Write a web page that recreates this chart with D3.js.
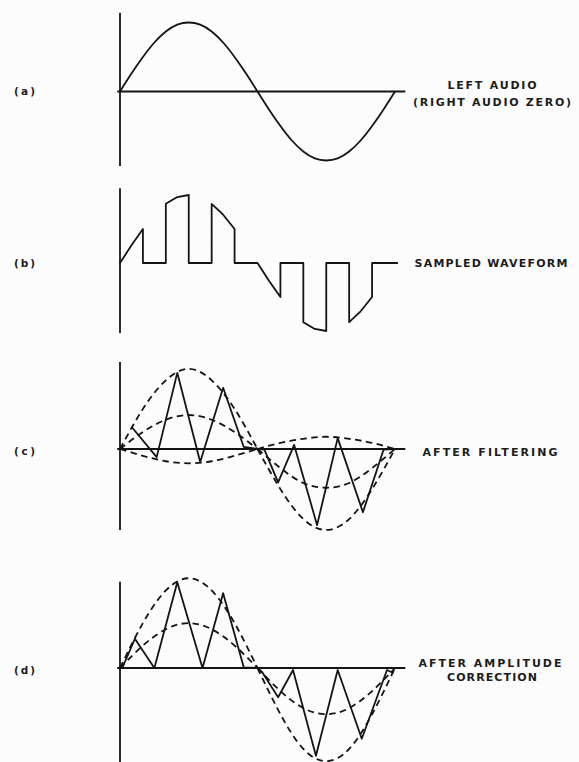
<!DOCTYPE html>
<html>
<head>
<meta charset="utf-8">
<script src="https://cdn.jsdelivr.net/npm/d3@7"></script>
<style>
  html, body { margin: 0; padding: 0; background: #fcfcfc; }
  svg { display: block; }
  text { font-family: "DejaVu Sans", sans-serif; fill: #1c1c1c; font-weight: bold; }
</style>
</head>
<body>
<svg id="chart" width="579" height="762"></svg>
<script>
// ---------------- DATA ----------------
// time in sample slots (one full audio cycle = 12 slots)
const panelLabels = ["(a)", "(b)", "(c)", "(d)"];
const panelTitles = [
  ["LEFT AUDIO", "(RIGHT AUDIO ZERO)"],
  ["SAMPLED WAVEFORM"],
  ["AFTER FILTERING"],
  ["AFTER AMPLITUDE", "CORRECTION"]
];

// (a) left audio, sampled every half slot
const audioT = [0,0.5,1,1.5,2,2.5,3,3.5,4,4.5,5,5.5,6,6.5,7,7.5,8,8.5,9,9.5,10,10.5,11,11.5,12];
const audioV = [0,0.26,0.5,0.71,0.87,0.97,1,0.97,0.87,0.71,0.5,0.26,0,-0.26,-0.5,-0.71,-0.87,-0.97,-1,-0.97,-0.87,-0.71,-0.5,-0.26,0];

// (b) left-channel gate start times (each gate lasts one slot)
const sampleGates = [0, 2, 4, 6, 8, 10];
const gateWidth = 1;
const sampledEnd = 12.1;

// (c) envelopes after filtering, at whole slots
const envT = [0,1,2,3,4,5,6,7,8,9,10,11,12];
const cUpper  = [0,0.59,1.01,1.18,1.01,0.59,0,0.09,0.15,0.18,0.15,0.09,0];
const cLower  = [0,-0.10,-0.18,-0.21,-0.18,-0.10,0,-0.59,-1.03,-1.19,-1.03,-0.59,0];
const cMiddle = [0,0.25,0.43,0.50,0.43,0.25,0,-0.28,-0.50,-0.57,-0.50,-0.28,0];
// (c) filtered composite
const cSolidT = [0.52,1.6,2.5,3.5,4.5,5.4,6.3,6.9,7.6,8.6,9.5,10.6,11.5,11.9];
const cSolidV = [0.32,-0.12,1.12,-0.19,0.90,0.03,-0.01,-0.49,0.06,-1.12,0.16,-0.93,-0.01,0];

// (d) envelopes after amplitude correction
const dEnvelope = [0,0.66,1.14,1.32,1.14,0.66,0,-0.68,-1.19,-1.37,-1.19,-0.68,0];
const dMiddle   = [0,0.33,0.57,0.66,0.57,0.33,0,-0.34,-0.59,-0.68,-0.59,-0.34,0];
// (d) corrected composite
const dSolidT = [0.1,0.65,1.5,2.5,3.6,4.5,5.4,6.0,6.2,6.9,7.55,8.55,9.5,10.55,11.65,11.9];
const dSolidV = [0,0.43,0,1.26,0,1.10,0.01,0,-0.06,-0.43,-0.03,-1.29,-0.03,-1.04,-0.03,-0.07];

// vertical axis extents per panel (value units)
const axisTop    = [1.14, 1.10, 1.28, 1.27];
const axisBottom = [-1.08, -1.03, -1.19, -1.40];
const hAxisEnd = 12.45;

// ---------------- LAYOUT ----------------
const svg = d3.select("#chart");
const x = d3.scaleLinear().domain([0, 12]).range([120, 395]);
const baselines = [91.5, 263, 449, 668];
const amp = [69, 68, 68, 68];
const yScales = baselines.map((b, i) => d3.scaleLinear().domain([-1, 1]).range([b + amp[i], b - amp[i]]));

const ink = "#141414";
const solidW = 1.8;

function vAxis(i) {
  const y = yScales[i];
  svg.append("line")
    .attr("x1", x(0)).attr("x2", x(0))
    .attr("y1", y(axisTop[i])).attr("y2", y(axisBottom[i]))
    .attr("stroke", ink).attr("stroke-width", 1.8);
}
function hAxis(i) {
  const y = yScales[i];
  svg.append("line")
    .attr("x1", x(-0.12)).attr("x2", x(hAxisEnd))
    .attr("y1", y(0)).attr("y2", y(0))
    .attr("stroke", ink).attr("stroke-width", 1.8);
}
function drawPath(i, pts, curve, dashed) {
  const y = yScales[i];
  const line = d3.line().x(d => x(d[0])).y(d => y(d[1])).curve(curve);
  const p = svg.append("path")
    .attr("d", line(pts))
    .attr("fill", "none")
    .attr("stroke", ink)
    .attr("stroke-width", dashed ? 1.8 : solidW)
    .attr("stroke-linejoin", "round")
    .attr("stroke-linecap", "round");
  if (dashed) p.attr("stroke-dasharray", "6.5,4.5").attr("stroke-linecap", "butt");
  return p;
}
function halves(vals) {
  const pts = envT.map((t, k) => [t, vals[k]]);
  return [pts.filter(d => d[0] <= 6), pts.filter(d => d[0] >= 6)];
}
function drawArc(i, pts) {
  if (pts.every(d => d[1] === 0)) return;
  drawPath(i, pts, d3.curveNatural, true);
}

// ---- (a) ----
vAxis(0); hAxis(0);
drawPath(0, audioT.map((t, k) => [t, audioV[k]]), d3.curveNatural, false);

// ---- (b) ----
vAxis(1);
const audioAt = t => audioV[audioT.indexOf(t)];
const bPts = [];
sampleGates.forEach(g => {
  bPts.push([g, 0]);
  [g, g + gateWidth / 2, g + gateWidth].forEach(t => bPts.push([t, audioAt(t)]));
  bPts.push([g + gateWidth, 0]);
});
bPts.push([sampledEnd, 0]);
drawPath(1, bPts, d3.curveLinear, false);

// ---- (c) ----
vAxis(2); hAxis(2);
[cUpper, cLower, cMiddle].forEach(v => halves(v).forEach(h => drawArc(2, h)));
drawPath(2, cSolidT.map((t, k) => [t, cSolidV[k]]), d3.curveLinear, false);

// ---- (d) ----
vAxis(3); hAxis(3);
[dEnvelope, dMiddle].forEach(v => halves(v).forEach(h => drawArc(3, h)));
drawPath(3, dSolidT.map((t, k) => [t, dSolidV[k]]), d3.curveLinear, false);

// ---------------- TEXT ----------------
const labelY = [95, 267, 455, 674];
panelLabels.forEach((lab, i) => {
  svg.append("text")
    .attr("x", 14).attr("y", labelY[i])
    .attr("font-size", 10.5)
    .attr("textLength", 21).attr("lengthAdjust", "spacing")
    .text(lab);
});

const titleSpecs = [
  [{cx: 492, y: 89, w: 89}, {cx: 492, y: 106, w: 158}],
  [{cx: 491, y: 267, w: 153}],
  [{cx: 490, y: 456, w: 135}],
  [{cx: 490, y: 667, w: 143}, {cx: 492, y: 681, w: 90}]
];
panelTitles.forEach((lines, i) => {
  lines.forEach((txt, j) => {
    const s = titleSpecs[i][j];
    svg.append("text")
      .attr("x", s.cx - s.w / 2).attr("y", s.y)
      .attr("font-size", 11)
      .attr("textLength", s.w).attr("lengthAdjust", "spacing")
      .text(txt);
  });
});
</script>
</body>
</html>
